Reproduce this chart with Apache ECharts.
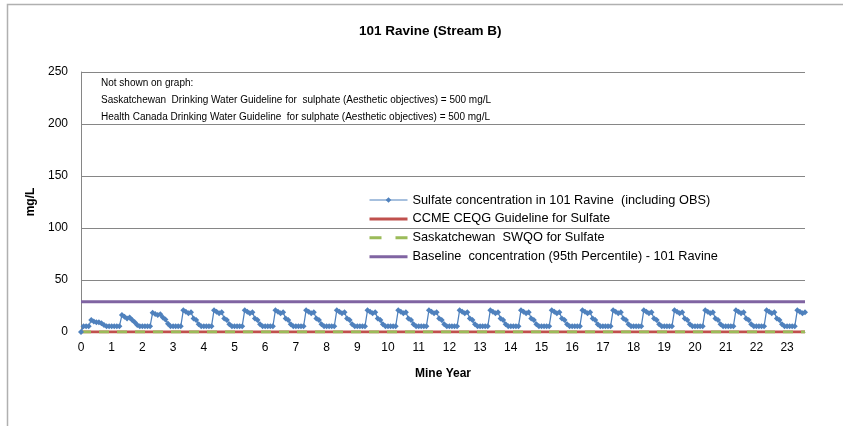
<!DOCTYPE html>
<html>
<head>
<meta charset="utf-8">
<script src="https://cdn.jsdelivr.net/npm/echarts@6/dist/echarts.min.js"></script>
<style>html,body{margin:0;padding:0;background:#fff}#c{width:843px;height:426px}</style>
</head>
<body>
<div id="c"></div>
<script>
const title = '101 Ravine (Stream B)';
const yearTicks = ['0','1','2','3','4','5','6','7','8','9','10','11','12','13','14','15','16','17','18','19','20','21','22','23'];
const seriesNames = [
  'Sulfate concentration in 101 Ravine  (including OBS)',
  'CCME CEQG Guideline for Sulfate',
  'Saskatchewan  SWQO for Sulfate',
  'Baseline  concentration (95th Percentile) - 101 Ravine'
];
const noteLines = [
  'Not shown on graph:',
  'Saskatchewan  Drinking Water Guideline for  sulphate (Aesthetic objectives) = 500 mg/L',
  'Health Canada Drinking Water Guideline  for sulphate (Aesthetic objectives) = 500 mg/L'
];
// monthly sulfate values, one row per mine year
const sulfateByYear = [
  [0,5.5,5.5,5.5,11.5,10,9.3,9.3,8.3,6.7,5.5,5.5],
  [5.5,5.5,5.5,5.5,16.3,14.7,13.1,14,11.5,9.3,6.7,5.5],
  [5.5,5.5,5.5,5.5,18.6,17.3,16.3,17,14,12,8,5.5],
  [5.5,5.5,5.5,5.5,21,19.5,18,19,13,11.5,7.5,5.5],
  [5.5,5.5,5.5,5.5,21,19.5,18,19,13,11.5,7.5,5.5],
  [5.5,5.5,5.5,5.5,21,19.5,18,19,13,11.5,7.5,5.5],
  [5.5,5.5,5.5,5.5,21,19.5,18,19,13,11.5,7.5,5.5],
  [5.5,5.5,5.5,5.5,21,19.5,18,19,13,11.5,7.5,5.5],
  [5.5,5.5,5.5,5.5,21,19.5,18,19,13,11.5,7.5,5.5],
  [5.5,5.5,5.5,5.5,21,19.5,18,19,13,11.5,7.5,5.5],
  [5.5,5.5,5.5,5.5,21,19.5,18,19,13,11.5,7.5,5.5],
  [5.5,5.5,5.5,5.5,21,19.5,18,19,13,11.5,7.5,5.5],
  [5.5,5.5,5.5,5.5,21,19.5,18,19,13,11.5,7.5,5.5],
  [5.5,5.5,5.5,5.5,21,19.5,18,19,13,11.5,7.5,5.5],
  [5.5,5.5,5.5,5.5,21,19.5,18,19,13,11.5,7.5,5.5],
  [5.5,5.5,5.5,5.5,21,19.5,18,19,13,11.5,7.5,5.5],
  [5.5,5.5,5.5,5.5,21,19.5,18,19,13,11.5,7.5,5.5],
  [5.5,5.5,5.5,5.5,21,19.5,18,19,13,11.5,7.5,5.5],
  [5.5,5.5,5.5,5.5,21,19.5,18,19,13,11.5,7.5,5.5],
  [5.5,5.5,5.5,5.5,21,19.5,18,19,13,11.5,7.5,5.5],
  [5.5,5.5,5.5,5.5,21,19.5,18,19,13,11.5,7.5,5.5],
  [5.5,5.5,5.5,5.5,21,19.5,18,19,13,11.5,7.5,5.5],
  [5.5,5.5,5.5,5.5,21,19.5,18,19,13,11.5,7.5,5.5],
  [5.5,5.5,5.5,5.5,21,19.5,18,19]
];
const ccmeGuideline = 0;
const swqoGuideline = 0;
const baselineValue = 29;

const sulfate = [].concat(...sulfateByYear);
const nMonths = sulfate.length;
const months = sulfate.map((_, i) => String(i));
function flatLine(v) {
  return months.map((_, i) => (i === 0 || i === nMonths - 1) ? v : null);
}
const FONT = 'Liberation Sans';
const chart = echarts.init(document.getElementById('c'), null, {renderer: 'canvas'});
chart.setOption({
  animation: false,
  backgroundColor: '#fff',
  textStyle: {fontFamily: FONT},
  title: {text: title, left: 354, top: 19, textStyle: {fontSize: 13.5, fontWeight: 'bold', color: '#000', fontFamily: FONT}},
  graphic: [
    {type: 'rect', shape: {x: 7.5, y: 4.5, width: 900, height: 500}, style: {fill: 'none', stroke: '#b0b0b0', lineWidth: 1.5}, silent: true},
    {type: 'text', left: 101, top: 75, style: {text: noteLines.join('\n'), fontSize: 10, lineHeight: 17, fill: '#000', fontFamily: FONT}, z: 10}
  ],
  legend: {
    orient: 'vertical', left: 368, top: 193.5, padding: 0, itemGap: 5.9, itemWidth: 38, itemHeight: 7,
    textStyle: {fontSize: 12.75, color: '#000', fontFamily: FONT},
    data: [
      {name: seriesNames[0], lineStyle: {width: 1}},
      {name: seriesNames[1], itemStyle: {opacity: 0}, lineStyle: {width: 3}},
      {name: seriesNames[2], itemStyle: {opacity: 0}, lineStyle: {width: 3, type: [12, 14]}},
      {name: seriesNames[3], itemStyle: {opacity: 0}, lineStyle: {width: 3}}
    ]
  },
  grid: {left: 81, right: 38, top: 72, bottom: 94},
  xAxis: {
    type: 'category', data: months, boundaryGap: false,
    name: 'Mine Year', nameLocation: 'middle', nameGap: 36,
    nameTextStyle: {fontSize: 12, fontWeight: 'bold', color: '#000'},
    axisLine: {show: true, lineStyle: {color: '#868686'}},
    axisTick: {show: false},
    axisLabel: {
      interval: (i) => i % 12 === 0, margin: 10, fontSize: 12, color: '#000',
      formatter: (v, i) => yearTicks[i / 12] || ''
    },
    splitLine: {show: false}
  },
  yAxis: {
    type: 'value', min: 0, max: 250, interval: 50,
    name: 'mg/L', nameLocation: 'middle', nameGap: 37, nameRotate: 90,
    nameTextStyle: {fontSize: 12, fontWeight: 'bold', color: '#000'},
    axisLine: {show: true, lineStyle: {color: '#868686'}},
    axisTick: {show: false},
    axisLabel: {fontSize: 12, color: '#000', margin: 13},
    splitLine: {lineStyle: {color: '#868686', width: 1}}
  },
  series: [
    {name: seriesNames[3], type: 'line', data: flatLine(baselineValue), connectNulls: true, symbol: 'none', lineStyle: {color: '#8064A2', width: 3}, itemStyle: {color: '#8064A2'}, z: 2},
    {name: seriesNames[1], type: 'line', data: flatLine(ccmeGuideline), connectNulls: true, symbol: 'none', lineStyle: {color: '#C0504D', width: 3}, itemStyle: {color: '#C0504D'}, z: 3},
    {name: seriesNames[2], type: 'line', data: flatLine(swqoGuideline), connectNulls: true, symbol: 'none', lineStyle: {color: '#9BBB59', width: 3, type: [10, 8]}, itemStyle: {color: '#9BBB59'}, z: 4},
    {name: seriesNames[0], type: 'line', data: sulfate, symbol: 'diamond', symbolSize: 6, showSymbol: true, showAllSymbol: true, lineStyle: {color: '#4F81BD', width: 1.25}, itemStyle: {color: '#4F81BD'}, z: 5}
  ]
});
</script>
</body>
</html>
